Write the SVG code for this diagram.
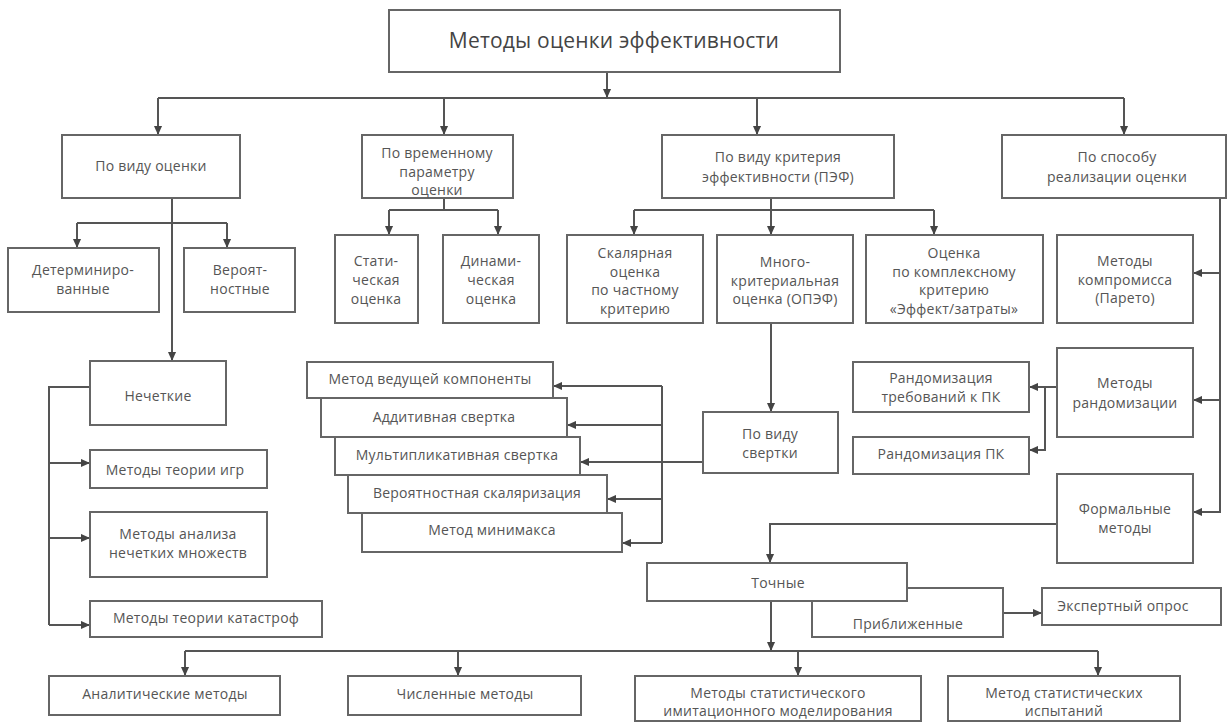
<svg xmlns="http://www.w3.org/2000/svg" width="1229" height="726" viewBox="0 0 1229 726">
<defs>
<marker id="ah" viewBox="0 0 10 10" refX="10" refY="5" markerWidth="9" markerHeight="9" orient="auto" markerUnits="userSpaceOnUse"><path d="M0,0.5 L10,5 L0,9.5 z" fill="#444"/></marker>
<style>
rect{fill:#fff;stroke:#666;stroke-width:2}
text{font-family:"Open Sans","Liberation Sans",sans-serif;font-size:14px;letter-spacing:0.25px;fill:#555;text-anchor:middle;dominant-baseline:central}
.t{font-size:21px;letter-spacing:0.2px;fill:#444}
.c path{fill:none;stroke:#555;stroke-width:2}
.a{marker-end:url(#ah)}
</style>
</defs>
<rect x="0" y="0" width="1229" height="726" style="fill:#fff;stroke:none"/>
<g class="c" id="connectors">
<path d="M607,72 V98" class="a"/>
<path d="M158,98 H1124"/>
<path d="M158,98 V135" class="a"/>
<path d="M444,98 V135" class="a"/>
<path d="M757,98 V135" class="a"/>
<path d="M1124,98 V135" class="a"/>
<path d="M172,198 V361" class="a"/>
<path d="M77,223 H227"/>
<path d="M77,223 V248" class="a"/>
<path d="M227,223 V248" class="a"/>
<path d="M90,387 H49 V625"/>
<path d="M49,463 H90" class="a"/>
<path d="M49,538 H90" class="a"/>
<path d="M49,625 H90" class="a"/>
<path d="M444,198 V210"/>
<path d="M389,210 H498"/>
<path d="M389,210 V235" class="a"/>
<path d="M498,210 V235" class="a"/>
<path d="M771,198 V235" class="a"/>
<path d="M634,210 H934"/>
<path d="M634,210 V235" class="a"/>
<path d="M934,210 V235" class="a"/>
<path d="M771,323 V412" class="a"/>
<path d="M703,462 H580" class="a"/>
<path d="M662,386 V543"/>
<path d="M662,386 H553" class="a"/>
<path d="M662,425 H567" class="a"/>
<path d="M662,499 H607" class="a"/>
<path d="M662,543 H622" class="a"/>
<path d="M1220,198 V512 H1193" class="a"/>
<path d="M1220,273 H1193" class="a"/>
<path d="M1220,400 H1193" class="a"/>
<path d="M1057,387 H1029" class="a"/>
<path d="M1045,387 V450 H1029" class="a"/>
<path d="M1057,524 H770 V563" class="a"/>
<path d="M1003,613 H1042" class="a"/>
<path d="M771,601 V651" class="a"/>
<path d="M185,651 H1098"/>
<path d="M185,651 V676" class="a"/>
<path d="M458,651 V676" class="a"/>
<path d="M798,651 V676" class="a"/>
<path d="M1098,651 V676" class="a"/>
</g>
<g id="n-root"><rect x="389" y="10" width="451" height="62"/><text class="t" x="614" y="40">Методы оценки эффективности</text></g>
<g id="n-vid"><rect x="62" y="135" width="178" height="63"/><text x="151" y="165">По виду оценки</text></g>
<g id="n-vrem"><rect x="362" y="135" width="151" height="63"/><text x="437" y="152">По временному<tspan x="437" dy="18.5">параметру</tspan><tspan x="437" dy="18.5">оценки</tspan></text></g>
<g id="n-krit"><rect x="662" y="135" width="232" height="63"/><text x="778" y="156">По виду критерия<tspan x="778" dy="19.5">эффективности (ПЭФ)</tspan></text></g>
<g id="n-sposob"><rect x="1002" y="135" width="224" height="63"/><text x="1117" y="156">По способу<tspan x="1117" dy="19.5">реализации оценки</tspan></text></g>
<g id="n-determ"><rect x="8" y="248" width="151" height="64"/><text x="83" y="269">Детерминиро-<tspan x="83" dy="19">ванные</tspan></text></g>
<g id="n-veroyat"><rect x="184" y="248" width="111" height="64"/><text x="240" y="269">Вероят-<tspan x="240" dy="19">ностные</tspan></text></g>
<g id="n-nechet"><rect x="90" y="361" width="136" height="64"/><text x="158" y="395">Нечеткие</text></g>
<g id="n-igr"><rect x="90" y="450" width="177" height="38"/><text x="175" y="469">Методы теории игр</text></g>
<g id="n-analiz"><rect x="90" y="512" width="177" height="65"/><text x="178" y="533">Методы анализа<tspan x="178" dy="19">нечетких множеств</tspan></text></g>
<g id="n-katastr"><rect x="90" y="601" width="232" height="36"/><text x="206" y="617">Методы теории катастроф</text></g>
<g id="n-stat"><rect x="335" y="235" width="83" height="88"/><text x="376" y="260">Стати-<tspan x="376" dy="19">ческая</tspan><tspan x="376" dy="19">оценка</tspan></text></g>
<g id="n-din"><rect x="443" y="235" width="96" height="88"/><text x="491" y="260">Динами-<tspan x="491" dy="19">ческая</tspan><tspan x="491" dy="19">оценка</tspan></text></g>
<g id="n-skal"><rect x="567" y="235" width="136" height="88"/><text x="635" y="252">Скалярная<tspan x="635" dy="18.5">оценка</tspan><tspan x="635" dy="18.5">по частному</tspan><tspan x="635" dy="18.5">критерию</tspan></text></g>
<g id="n-mnogo"><rect x="717" y="235" width="136" height="88"/><text x="785" y="261">Много-<tspan x="785" dy="18.5">критериальная</tspan><tspan x="785" dy="18.5">оценка (ОПЭФ)</tspan></text></g>
<g id="n-kompl"><rect x="866" y="235" width="177" height="88"/><text x="954" y="252">Оценка<tspan x="954" dy="18.5">по комплексному</tspan><tspan x="954" dy="18.5">критерию</tspan><tspan x="954" dy="18.5">«Эффект/затраты»</tspan></text></g>
<g id="n-pareto"><rect x="1057" y="235" width="136" height="88"/><text x="1125" y="260">Методы<tspan x="1125" dy="18.5">компромисса</tspan><tspan x="1125" dy="18.5">(Парето)</tspan></text></g>
<g id="n-random"><rect x="1057" y="348" width="136" height="89"/><text x="1125" y="382">Методы<tspan x="1125" dy="20">рандомизации</tspan></text></g>
<g id="n-randtreb"><rect x="853" y="362" width="176" height="50"/><text x="941" y="377">Рандомизация<tspan x="941" dy="19">требований к ПК</tspan></text></g>
<g id="n-randpk"><rect x="853" y="437" width="176" height="37"/><text x="941" y="453">Рандомизация ПК</text></g>
<g id="n-formal"><rect x="1057" y="474" width="136" height="89"/><text x="1125" y="508">Формальные<tspan x="1125" dy="19">методы</tspan></text></g>
<g id="n-svertka"><rect x="703" y="412" width="135" height="61"/><text x="770" y="433">По виду<tspan x="770" dy="18.5">свертки</tspan></text></g>
<g id="n-vedush"><rect x="307" y="362" width="246" height="36"/><text x="430" y="378">Метод ведущей компоненты</text></g>
<g id="n-addit"><rect x="321" y="398" width="246" height="39"/><text x="444" y="416">Аддитивная свертка</text></g>
<g id="n-multi"><rect x="335" y="437" width="245" height="38"/><text x="457" y="454">Мультипликативная свертка</text></g>
<g id="n-veroskal"><rect x="348" y="475" width="259" height="38"/><text x="477" y="492">Вероятностная скаляризация</text></g>
<g id="n-minimaks"><rect x="362" y="513" width="260" height="39"/><text x="492" y="529">Метод минимакса</text></g>
<g id="n-pribl"><rect x="812" y="588" width="191" height="49"/><text x="908" y="623">Приближенные</text></g>
<g id="n-tochnye"><rect x="647" y="563" width="260" height="38"/><text x="778" y="582">Точные</text></g>
<g id="n-ekspert"><rect x="1042" y="588" width="179" height="37"/><text x="1123" y="605">Экспертный опрос</text></g>
<g id="n-analit"><rect x="49" y="676" width="231" height="39"/><text x="165" y="693">Аналитические методы</text></g>
<g id="n-chisl"><rect x="348" y="676" width="233" height="39"/><text x="465" y="693">Численные методы</text></g>
<g id="n-imit"><rect x="635" y="676" width="286" height="45"/><text x="778" y="692">Методы статистического<tspan x="778" dy="18">имитационного моделирования</tspan></text></g>
<g id="n-ispyt"><rect x="948" y="676" width="232" height="45"/><text x="1064" y="692">Метод статистических<tspan x="1064" dy="18">испытаний</tspan></text></g>
</svg>
